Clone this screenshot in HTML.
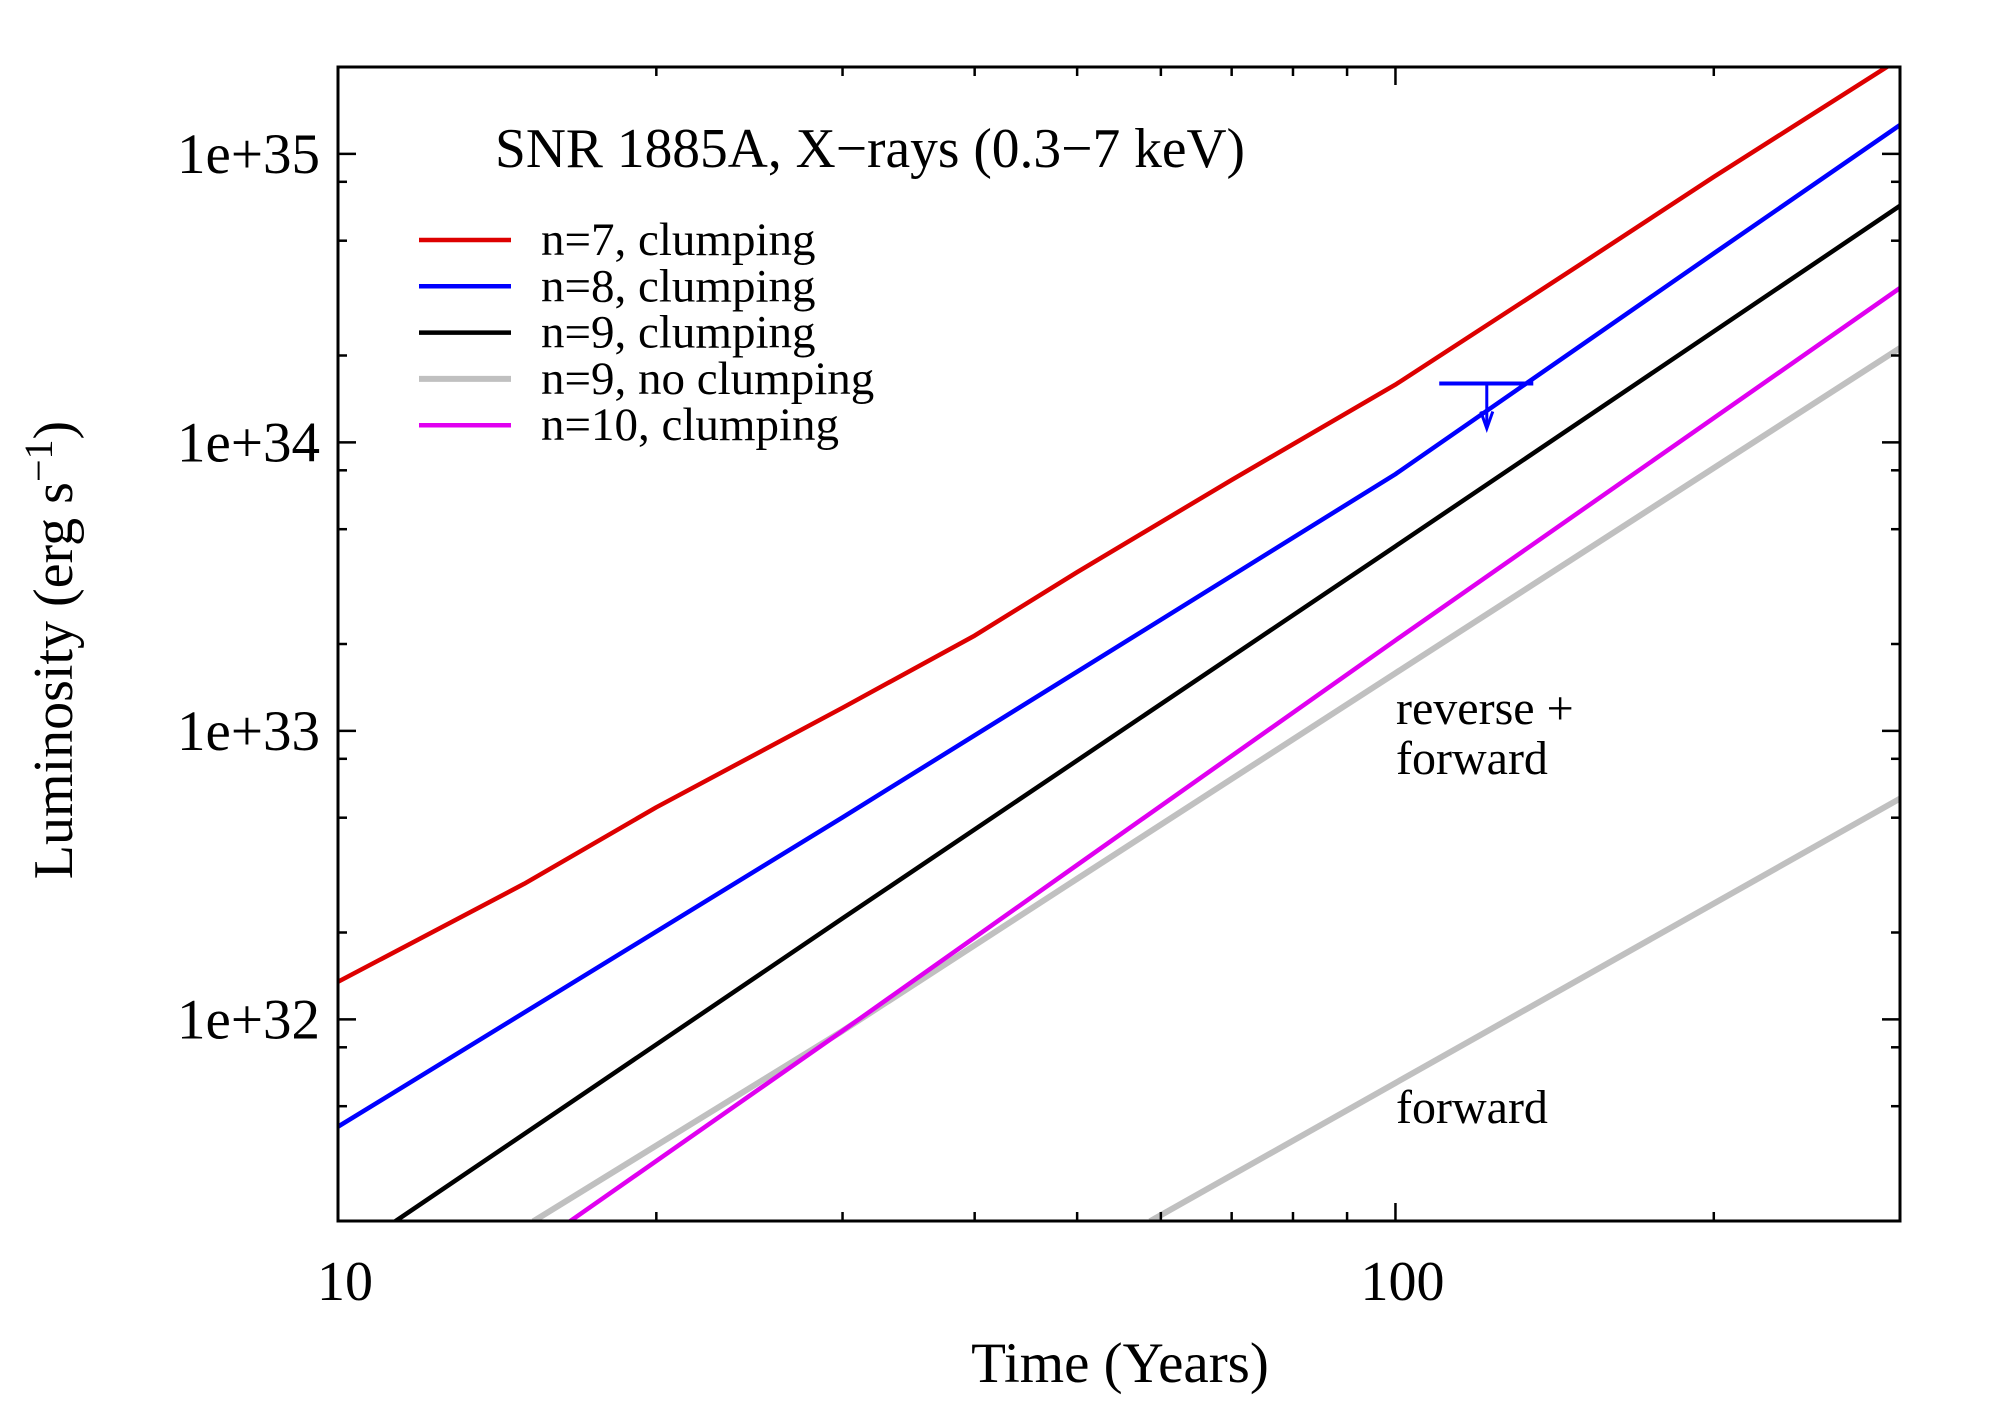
<!DOCTYPE html>
<html><head><meta charset="utf-8"><style>
html,body{margin:0;padding:0;background:#fff;}
svg text{font-family:"Liberation Serif",serif;fill:#000;}
</style></head><body>
<svg id="chart" width="2000" height="1400" viewBox="0 0 2000 1400" xmlns="http://www.w3.org/2000/svg">
<defs><clipPath id="pc"><rect x="338" y="67" width="1562" height="1154"/></clipPath></defs>
<g id="marks" clip-path="url(#pc)"></g>
<g id="axes"></g>
<text x="495" y="167" font-size="56" textLength="750" lengthAdjust="spacingAndGlyphs">SNR 1885A, X−rays (0.3−7 keV)</text>
<text x="1396" y="724" font-size="48">reverse +</text>
<text x="1396" y="774" font-size="48">forward</text>
<text x="1396" y="1123" font-size="48">forward</text>
<text x="1120" y="1382" font-size="57" text-anchor="middle">Time (Years)</text>
<text transform="translate(72,650) rotate(-90)" font-size="56" text-anchor="middle">Luminosity (erg s<tspan dy="-20" font-size="40">−1</tspan><tspan dy="20">)</tspan></text>
<g id="legend"></g>
</svg>
<script>
// Data (time in years, log10 luminosity)
const seriesNames = ["n=7, clumping","n=8, clumping","n=9, clumping","n=9, no clumping","n=10, clumping"];
const n7T = [10,15,20,30,40,50,70,100,150,200,300];
const n7L = [32.13,32.47,32.735,33.08,33.33,33.55,33.87,34.20,34.62,34.92,35.33];
const n8T = [10,30,100,200,300];
const n8L = [31.628,32.70,33.89,34.655,35.10];
const n9T = [11.33,30,100,300];
const n9L = [31.30,32.35,33.64,34.82];
const n10T = [16.57,30,50,100,300];
const n10L = [31.30,31.96,32.535,33.314,34.535];
const grayUpT = [15.3,30,50,100,300];
const grayUpL = [31.30,31.96,32.487,33.20,34.327];
const grayLoT = [58.6,300];
const grayLoL = [31.30,32.765];
const limitT = 122, limitL = 34.204, limitTLo = 110, limitTHi = 135;
const xTicks = [10,100];
const xTickLabels = ["10","100"];
const yTicks = [32,33,34,35];
const yTickLabels = ["1e+32","1e+33","1e+34","1e+35"];

const X0=338,X1=1900,Y0=67,Y1=1221;
const xMin=Math.log10(10),xMax=Math.log10(300),yMin=Math.log10(2e31),yMax=Math.log10(2e35);
const xs=t=>X0+(Math.log10(t)-xMin)/(xMax-xMin)*(X1-X0);
const ys=l=>Y1-(l-yMin)/(yMax-yMin)*(Y1-Y0);
const NS="http://www.w3.org/2000/svg";
const marks=document.getElementById('marks'),axes=document.getElementById('axes'),legend=document.getElementById('legend');
function mk(tag,attrs,parent){const e=document.createElementNS(NS,tag);for(const k in attrs)e.setAttribute(k,attrs[k]);parent.appendChild(e);return e;}
function line(T,L,color,w,name){
  const p=mk('polyline',{points:T.map((t,i)=>xs(t).toFixed(1)+','+ys(L[i]).toFixed(1)).join(' '),fill:'none',stroke:color,'stroke-width':w,'stroke-linejoin':'round'},marks);
  
  
}
line(grayUpT,grayUpL,'#c0c0c0',6,'line-n9-no-clumping-reverse-forward');
line(grayLoT,grayLoL,'#c0c0c0',6,'line-n9-no-clumping-forward');
line(n10T,n10L,'#e000f0',4.5,'line-n10-clumping');
line(n9T,n9L,'#000000',4.5,'line-n9-clumping');
line(n8T,n8L,'#0000ff',4.5,'line-n8-clumping');
line(n7T,n7L,'#dd0000',4.5,'line-n7-clumping');
// upper limit
const ul=mk('g',{},axes);


const ly=ys(limitL),lx=xs(limitT);
mk('line',{x1:xs(limitTLo),x2:xs(limitTHi),y1:ly,y2:ly,stroke:'#0000ff','stroke-width':4},ul);
mk('line',{x1:lx,x2:lx,y1:ly,y2:ly+42,stroke:'#0000ff','stroke-width':3},ul);
mk('polyline',{points:`${lx-6},${ly+28} ${lx},${ly+45} ${lx+6},${ly+28}`,fill:'none',stroke:'#0000ff','stroke-width':3},ul);
// frame
const fr=mk('rect',{x:X0,y:Y0,width:X1-X0,height:Y1-Y0,fill:'none',stroke:'#000','stroke-width':3},axes);


// x ticks
for(let d=10;d<=100;d*=10){for(let m=1;m<=9;m++){const t=d*m;if(t>300)break;const x=xs(t);const L=(m===1)?18:9;
  mk('line',{x1:x,x2:x,y1:Y1,y2:Y1-L,stroke:'#000','stroke-width':2.5},axes);
  mk('line',{x1:x,x2:x,y1:Y0,y2:Y0+L,stroke:'#000','stroke-width':2.5},axes);}}
xTicks.forEach((t,i)=>{const e=mk('text',{x:xs(t)+7,y:1300,'font-size':56,'text-anchor':'middle'},axes);e.textContent=xTickLabels[i];
  
  });
// y ticks
for(let e10=31;e10<=35;e10++){[1,2,5,8].forEach(m=>{const l=e10+Math.log10(m);if(l<yMin||l>yMax)return;const y=ys(l);const L=(m===1)?18:9;
  mk('line',{x1:X0,x2:X0+L,y1:y,y2:y,stroke:'#000','stroke-width':2.5},axes);
  mk('line',{x1:X1,x2:X1-L,y1:y,y2:y,stroke:'#000','stroke-width':2.5},axes);});}
yTicks.forEach((l,i)=>{const e=mk('text',{x:320,y:ys(l)+19,'font-size':57,'text-anchor':'end'},axes);e.textContent=yTickLabels[i];
  
  });
// legend
const legColors=['#dd0000','#0000ff','#000000','#c0c0c0','#e000f0'];
const legW=[4.5,4.5,4.5,6,4.5];
seriesNames.forEach((s,i)=>{const y=240+i*46.3;const g=mk('g',{},legend);
  
  
  mk('line',{x1:419,x2:511,y1:y,y2:y,stroke:legColors[i],'stroke-width':legW[i]},g);
  const t=mk('text',{x:541,y:y+15,'font-size':47},g);t.textContent=s;});
</script>
</body></html>
